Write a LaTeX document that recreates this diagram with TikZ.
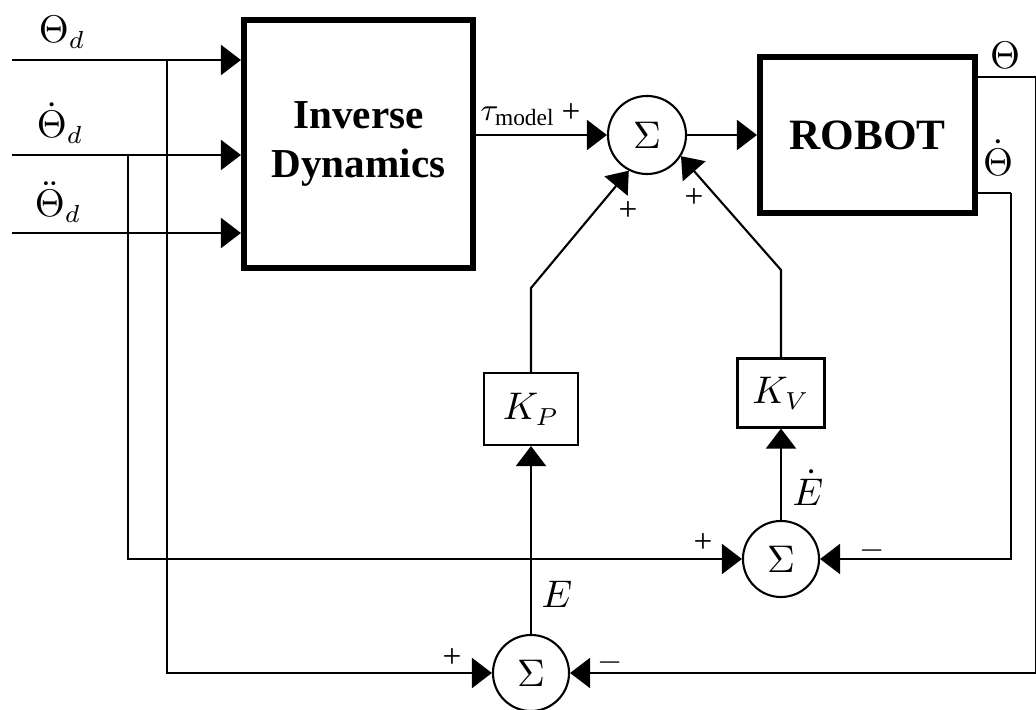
\documentclass[tikz,border=0pt]{standalone}
\usepackage{fontspec}
\setmainfont{Liberation Serif}
\usetikzlibrary{arrows.meta}

\begin{document}
\begin{tikzpicture}[x=0.01cm, y=-0.01cm,
  bigblock/.style={draw, line width=1.7pt, align=center, inner sep=0pt,
                   font=\fontsize{11.7}{14.2}\selectfont\bfseries},
  gain/.style={draw, line width=0.6pt, inner sep=0pt,
               font=\fontsize{10.5}{12}\selectfont},
  sumnode/.style={circle, draw, line width=0.6pt, minimum size=7.6mm,
                  inner sep=0pt, font=\fontsize{10.5}{12}\selectfont},
  lbl/.style={font=\fontsize{10.5}{12}\selectfont, inner sep=0pt},
  sgn/.style={font=\fontsize{9.5}{11}\selectfont, inner sep=0pt},
  sig/.style={line width=0.6pt},
  feed/.style={sig, -{Triangle[length=2mm, width=3mm]}},
]
\useasboundingbox (0,0) rectangle (1036,710);

\node[bigblock, minimum width=2.29cm, minimum height=2.48cm] (inv) at (358.5,144) {Inverse\\Dynamics};
\node[bigblock, font=\fontsize{12.3}{14}\selectfont\bfseries,
      minimum width=2.15cm, minimum height=1.56cm] (robot) at (867.5,135) {ROBOT};
\node[sumnode, minimum size=7.8mm] (sum1) at (647,135) {$\Sigma$};
\node[sumnode] (sumv) at (781,559) {$\Sigma$};
\node[sumnode] (sump) at (531,673) {$\Sigma$};
\node[gain, minimum width=0.94cm, minimum height=0.72cm] (kp) at (531,409) {$K_P$};
\node[gain, minimum width=0.87cm, minimum height=0.69cm] (kv) at (781,393) {$K_V$};

\coordinate (thd) at (12,60);
\coordinate (dthd) at (12,155);
\coordinate (ddthd) at (12,233);
\coordinate (br1) at (167,60);
\coordinate (br2) at (128,155);
\coordinate (posout) at (1036,77);
\coordinate (velout) at (1011,193);
\coordinate (kpbend) at (531,288);
\coordinate (kvbend) at (781,270);

\draw[feed] (thd) -- (thd -| inv.west);
\draw[feed] (dthd) -- (dthd -| inv.west);
\draw[feed] (ddthd) -- (ddthd -| inv.west);
\draw[feed] (br1) |- (sump.west);
\draw[feed] (br2) |- (sumv.west);
\draw[feed] (sum1 -| inv.east) -- (sum1.west);
\draw[feed] (sum1.east) -- (robot.west);
\draw[sig] (robot.east |- posout) -- (posout);
\draw[feed] (posout) |- (sump.east);
\draw[sig] (robot.east |- velout) -- (velout);
\draw[feed] (velout) |- (sumv.east);
\draw[feed] (sump.north) -- (kp.south);
\draw[feed] (sumv.north) -- (kv.south);
\draw[feed] (kp.north) -- (kpbend) -- (sum1.243);
\draw[feed] (kv.north) -- (kvbend) -- (sum1.-32);

\node[lbl] (lthd) at (62,32) {$\Theta_d$};
\node[lbl] (ldthd) at (60,123) {$\dot\Theta_d$};
\node[lbl] (lddthd) at (58,202) {$\ddot\Theta_d$};
\node[lbl, font=\fontsize{9.5}{11}\selectfont] (ltau) at (518,116) {$\tau_{\mathrm{model}}$};
\node[lbl] (lpos) at (1005,55) {$\Theta$};
\node[lbl] (lvel) at (998,158) {$\dot\Theta$};
\node[lbl] (lerr) at (557,594) {$E$};
\node[lbl] (lderr) at (808,488) {$\dot E$};

\node[sgn] (s1) at (571,113) {+};
\node[sgn] (s2) at (628,211) {+};
\node[sgn] (s3) at (694,198) {+};
\node[sgn] (s4) at (703,543) {+};
\node[sgn] (s5) at (872,551) {$-$};
\node[sgn] (s6) at (452,658) {+};
\node[sgn] (s7) at (610,663) {$-$};

\end{tikzpicture}
\end{document}
